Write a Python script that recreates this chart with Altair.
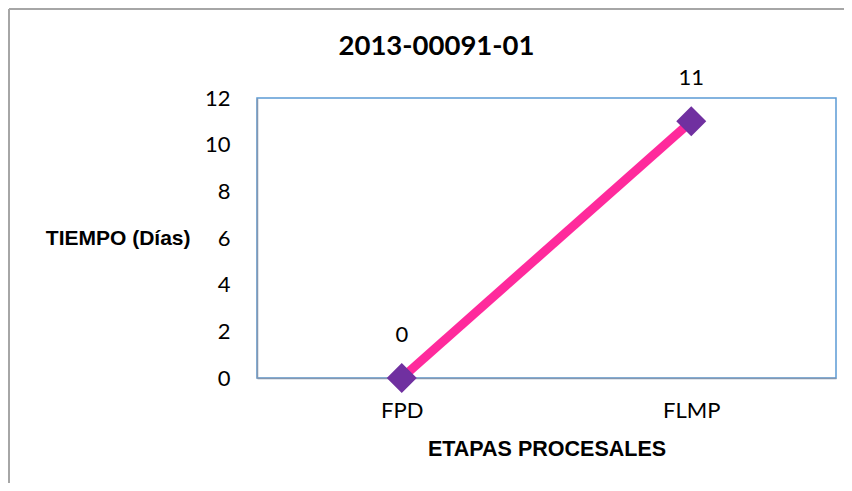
import altair as alt
import pandas as pd

etapas = ["FPD", "FLMP"]
tiempo = [0, 11]
titulo = "2013-00091-01"
y_ticks = [0, 2, 4, 6, 8, 10, 12]

df = pd.DataFrame({"etapa": etapas, "tiempo": tiempo})
title_df = pd.DataFrame({"titulo": [titulo]})

num_font = "Lato"
bold_font = "Liberation Sans"

base = alt.Chart(df).encode(
    x=alt.X(
        "etapa:N",
        sort=etapas,
        scale=alt.Scale(type="point", padding=0.5),
        axis=alt.Axis(
            title="ETAPAS PROCESALES",
            labelAngle=0,
            ticks=False,
            tickSize=0,
            grid=False,
            domainColor="#8497B0",
            domainWidth=1.5,
            labelFont=num_font,
            labelFontSize=22,
            labelColor="#000000",
            labelBaseline="middle",
            labelPadding=32,
            titleFont=bold_font,
            titleFontSize=21.5,
            titleFontWeight="bold",
            titleColor="#000000",
            titleBaseline="middle",
            titleY=71,
        ),
    ),
    y=alt.Y(
        "tiempo:Q",
        scale=alt.Scale(domain=[0, 12], nice=False, zero=True),
        axis=alt.Axis(
            values=y_ticks,
            title="TIEMPO (Días)",
            ticks=False,
            tickSize=0,
            grid=False,
            domainColor="#8497B0",
            domainWidth=1.5,
            labelFont=num_font,
            labelFontSize=22,
            labelColor="#000000",
            labelPadding=27,
            titleFont=bold_font,
            titleFontSize=21,
            titleFontWeight="bold",
            titleColor="#000000",
            titleAngle=0,
            titleAlign="right",
            titleBaseline="middle",
            titleX=-67,
            titleY=140,
        ),
    ),
)

line = base.mark_line(color="#FF2A9C", strokeWidth=9)
pts = base.mark_point(shape="diamond", size=900, filled=True, color="#7030A0", opacity=1)
labels = base.mark_text(dy=-43, font=num_font, fontSize=22, color="#000000").encode(text="tiempo:Q")

title_mark = alt.Chart(title_df).mark_text(
    font=num_font, fontSize=27.5, fontWeight="bold", color="#000000", baseline="middle", align="center"
).encode(text="titulo:N", x=alt.value(179.5), y=alt.value(-51))

frame_df = pd.DataFrame({"k": [0]})
left_border = alt.Chart(frame_df).mark_rule(color="#A6A6A6", strokeWidth=2).encode(
    x=alt.value(-248), y=alt.value(-89), y2=alt.value(400)
)
top_border = alt.Chart(frame_df).mark_rule(color="#A6A6A6", strokeWidth=2).encode(
    x=alt.value(-248), x2=alt.value(600), y=alt.value(-89)
)

chart = alt.layer(left_border, top_border, line, pts, labels, title_mark).properties(
    width=579,
    height=280,
    padding={"left": 249, "top": 90, "right": 8, "bottom": 105},
    autosize=alt.AutoSizeParams(type="none"),
    background="#FFFFFF",
).configure_view(stroke="#5B9BD5", strokeWidth=1.5)

chart.save("out.html", embed_options={"renderer": "svg", "actions": False})
